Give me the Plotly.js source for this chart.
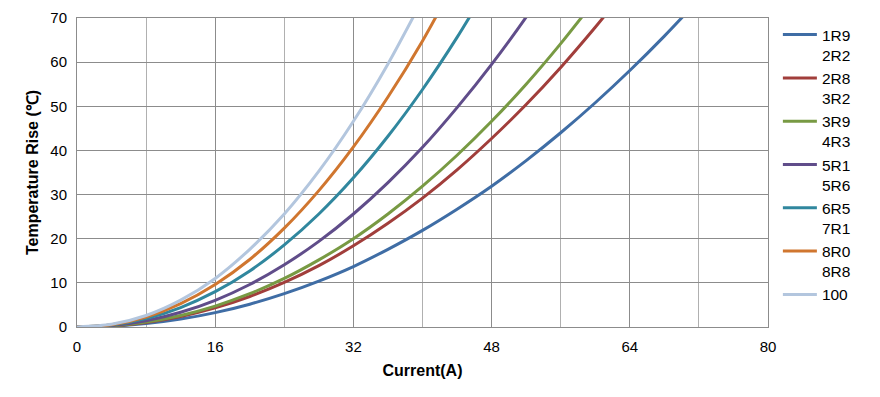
<!DOCTYPE html>
<html>
<head>
<meta charset="utf-8">
<script src="https://cdn.plot.ly/plotly-3.0.1.min.js"></script>
<style>html,body{margin:0;padding:0;background:#fff;}#chart{width:880px;height:397px;}</style>
</head>
<body>
<div id="chart"></div>
<script>
// Current (A) sample points
var current = [0, 4, 8, 12, 16, 20, 24, 28, 32, 36, 40, 44, 48, 52, 56, 60, 64, 68, 72];

// Temperature rise (℃)
var rise_1R9 = [0, 0.18, 0.77, 1.79, 3.25, 5.17, 7.55, 10.4, 13.7, 17.6, 21.9, 26.7, 31.9, 37.7, 44.0, 50.8, 58.1, 65.9, 74.2];
var rise_2R8 = [0, 0.24, 1.03, 2.39, 4.34, 6.91, 10.1, 13.9, 18.4, 23.5, 29.2, 35.6, 42.7, 50.4, 58.8, 67.9, 77.6];
var rise_3R9 = [0, 0.26, 1.12, 2.61, 4.74, 7.54, 11.0, 15.2, 20.0, 25.6, 31.9, 38.9, 46.6, 55.0, 64.2, 74.1];
var rise_5R1 = [0, 0.34, 1.43, 3.33, 6.05, 9.63, 14.1, 19.4, 25.6, 32.7, 40.7, 49.7, 59.5, 70.2, 82.0];
var rise_6R5 = [0, 0.44, 1.89, 4.41, 8.00, 12.7, 18.6, 25.6, 33.8, 43.2, 53.8, 65.6, 78.6];
var rise_8R0 = [0, 0.53, 2.28, 5.31, 9.64, 15.3, 22.4, 30.9, 40.8, 52.1, 64.8, 79.1];
var rise_100 = [0, 0.61, 2.61, 6.08, 11.0, 17.6, 25.6, 35.3, 46.6, 59.6, 74.2];

var seriesNames = ['1R9<br>2R2', '2R8<br>3R2', '3R9<br>4R3', '5R1<br>5R6', '6R5<br>7R1', '8R0<br>8R8', '100'];
var seriesValues = [rise_1R9, rise_2R8, rise_3R9, rise_5R1, rise_6R5, rise_8R0, rise_100];
var seriesColors = ['#3F6DA5', '#A13E3B', '#789A43', '#604D8A', '#30879E', '#D0762F', '#B3C6DE'];

var xTicks = [0, 16, 32, 48, 64, 80];
var yTicks = [0, 10, 20, 30, 40, 50, 60, 70];

var traces = seriesValues.map(function (vals, i) {
  return {
    type: 'scatter',
    mode: 'lines',
    x: current.slice(0, vals.length),
    y: vals,
    name: seriesNames[i],
    line: {color: seriesColors[i], width: 3, shape: 'spline', smoothing: 0.8},
    hoverinfo: 'skip'
  };
});

var font = 'Liberation Sans, Arial, sans-serif';
var layout = {
  width: 880, height: 397,
  margin: {l: 77, r: 112, t: 18, b: 70},
  paper_bgcolor: '#fff', plot_bgcolor: '#fff',
  showlegend: true,
  font: {family: font, size: 15, color: '#000'},
  xaxis: {
    range: [0, 80], tickvals: xTicks, ticktext: xTicks.map(String),
    showgrid: true, gridcolor: '#8c8c8c', gridwidth: 1,
    minor: {dtick: 8, tick0: 0, showgrid: true, gridcolor: '#b0b0b0', gridwidth: 1},
    showline: true, linecolor: '#8c8c8c', linewidth: 1, mirror: true,
    zeroline: false, ticks: '', ticklabelstandoff: 6,
    tickfont: {family: font, size: 15, color: '#000'},
    title: {text: 'Current(A)', font: {family: font, size: 16, color: '#000', weight: 'bold'}, standoff: 10}
  },
  yaxis: {
    range: [0, 70], tickvals: yTicks, ticktext: yTicks.map(String),
    showgrid: true, gridcolor: '#8c8c8c', gridwidth: 1,
    showline: true, linecolor: '#8c8c8c', linewidth: 1, mirror: true,
    zeroline: false, ticks: '', ticklabelstandoff: 6,
    tickfont: {family: font, size: 15, color: '#000'},
    title: {text: 'Temperature Rise (℃)', font: {family: font, size: 16, color: '#000', weight: 'bold'}, standoff: 7}
  },
  legend: {
    x: 1.0143, xanchor: 'left', y: 1.0, yanchor: 'top',
    valign: 'top', bgcolor: 'rgba(0,0,0,0)', borderwidth: 0,
    itemwidth: 34,
    font: {family: font, size: 15.5, color: '#000'},
    tracegroupgap: 0
  }
};

Plotly.newPlot('chart', traces, layout, {staticPlot: true, displayModeBar: false});
</script>
</body>
</html>
